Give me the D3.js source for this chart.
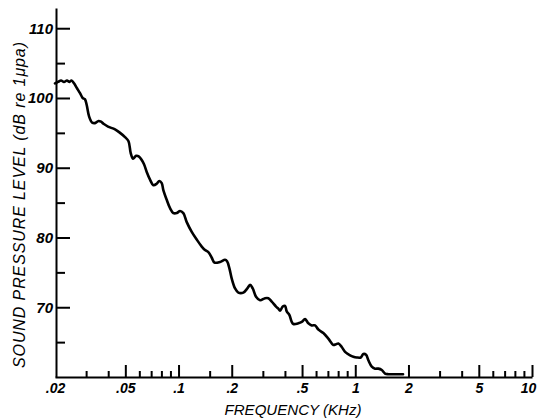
<!DOCTYPE html>
<html>
<head>
<meta charset="utf-8">
<script src="https://cdn.jsdelivr.net/npm/d3@7"></script>
<style>
  html, body { margin: 0; padding: 0; background: #fff; }
  svg text { font-family: "Liberation Sans Narrow", "Liberation Sans", Arial, sans-serif; font-style: italic; fill: #000; }
</style>
</head>
<body>
<svg id="chart" width="538" height="419"></svg>
<script>
// Ambient noise spectrum: frequency (kHz) vs sound pressure level (dB re 1 µPa)
const freqKHz = [
  0.02, 0.0208, 0.02163, 0.02249, 0.02338, 0.02416, 0.0248, 0.02562, 0.02664, 0.0277,
  0.02869, 0.02957, 0.03023, 0.03115, 0.03239, 0.03368, 0.03525, 0.03642, 0.03763, 0.0399,
  0.04371, 0.04667, 0.04979, 0.05212, 0.05363, 0.05527, 0.05747, 0.05976, 0.0619, 0.06379,
  0.06607, 0.06897, 0.07201, 0.07527, 0.07786, 0.08034, 0.08203, 0.08575, 0.08952, 0.09346,
  0.09769, 0.10198, 0.10646, 0.11129, 0.11877, 0.12676, 0.13529, 0.14125, 0.14745, 0.15414,
  0.15987, 0.17177, 0.18332, 0.18816, 0.19388, 0.2, 0.20879, 0.21796, 0.23264, 0.24508,
  0.25384, 0.26292, 0.27448, 0.28918, 0.30868, 0.32224, 0.33684, 0.35626, 0.36708, 0.3753,
  0.38872, 0.40056, 0.40952, 0.42364, 0.4371, 0.44632, 0.47638, 0.49796, 0.51984, 0.5427,
  0.56728, 0.59222, 0.6183, 0.6598, 0.7042, 0.7516, 0.7786, 0.8022, 0.8386, 0.8756,
  0.9346, 0.9754, 1.0198, 1.0742, 1.1112, 1.1508, 1.1862, 1.2398, 1.2944, 1.3514,
  1.4126, 1.4746, 1.5394, 1.68, 1.864
];
const splDb = [
  102.1, 102.3, 102.5, 102.3, 102.5, 102.3, 102.5, 102.1, 101.4, 100.7,
  100.0, 99.8, 99.0, 97.4, 96.5, 96.4, 96.7, 96.6, 96.3, 95.9,
  95.5, 95.0, 94.4, 93.8, 92.1, 91.3, 91.7, 91.6, 91.1, 90.5,
  89.4, 88.3, 87.5, 87.7, 88.1, 87.8, 86.8, 85.4, 84.2, 83.5,
  83.5, 83.8, 83.5, 82.2, 80.8, 79.7, 78.7, 78.2, 77.9, 77.1,
  76.4, 76.5, 76.8, 76.6, 75.6, 74.1, 72.7, 72.1, 72.1, 72.7,
  73.2, 72.7, 71.5, 71.0, 71.3, 71.3, 70.8, 70.1, 69.8, 69.5,
  70.1, 70.2, 69.4, 68.9, 67.9, 67.6, 67.7, 67.9, 68.3, 67.7,
  67.4, 67.4, 66.8, 66.3, 65.5, 64.6, 64.7, 64.8, 64.3, 63.6,
  63.1, 62.9, 62.8, 62.8, 63.3, 63.2, 62.4, 61.5, 61.2, 61.2,
  61.0, 60.5, 60.4, 60.4, 60.4
];

// Axis ticks and labels
const xMajorTicks = [0.02, 0.05, 0.1, 0.2, 0.5, 1, 2, 5, 10];
const xMajorLabels = [".02", ".05", ".1", ".2", ".5", "1", "2", "5", "10"];
const xMinorTicks = [0.03, 0.04, 0.06, 0.07, 0.08, 0.09, 0.15, 0.3, 0.4, 0.6, 0.7, 0.8, 0.9, 3, 4, 6, 7, 8, 9];
const yMajorTicks = [70, 80, 90, 100, 110];
const yMinorTicks = [65, 75, 85, 95, 105];
const xDomain = [0.02, 10];
const yDomain = [60, 112.9];
const xTitle = "FREQUENCY (KHz)";
const yTitle = "SOUND PRESSURE LEVEL (dB re 1\u03bcpa)";

const svg = d3.select("#chart");

const x = d3.scaleLog().domain(xDomain).range([55, 532]);
const y = d3.scaleLinear().domain(yDomain).range([377, 8]);

const axisStroke = g => {
  g.selectAll("path.domain").attr("stroke", "#000").attr("stroke-width", 2);
  g.selectAll(".tick line").attr("stroke", "#000").attr("stroke-width", 2);
};

// Bottom axis: major ticks pointing up, labelled
const xAxisMajor = d3.axisBottom(x)
  .tickValues(xMajorTicks)
  .tickSizeInner(-12)
  .tickSizeOuter(0)
  .tickPadding(6)
  .tickFormat((d, i) => xMajorLabels[i]);

const gx = svg.append("g")
  .attr("transform", `translate(0,${y(60)})`)
  .call(xAxisMajor)
  .call(axisStroke);
gx.selectAll("text").attr("font-size", 14).attr("font-weight", "bold").attr("dy", "0.71em");
gx.selectAll(".tick").filter(d => d === 0.02).select("line").remove();
gx.selectAll(".tick").filter(d => d === 10).select("text").attr("dx", -4);

// Bottom axis: minor ticks
svg.append("g")
  .attr("transform", `translate(0,${y(60)})`)
  .call(d3.axisBottom(x).tickValues(xMinorTicks).tickSizeInner(-6).tickSizeOuter(0).tickFormat(""))
  .call(g => g.select("path.domain").remove())
  .call(axisStroke);

// Left axis: major ticks pointing right, labelled
const yAxisMajor = d3.axisLeft(y)
  .tickValues(yMajorTicks)
  .tickSizeInner(-14)
  .tickSizeOuter(0)
  .tickPadding(3)
  .tickFormat(d3.format("d"));

const gy = svg.append("g")
  .attr("transform", `translate(${x(0.02) + 1},0)`)
  .call(yAxisMajor)
  .call(axisStroke);
gy.selectAll("text").attr("font-size", 15).attr("font-weight", "bold");

// Left axis: minor ticks
svg.append("g")
  .attr("transform", `translate(${x(0.02) + 1},0)`)
  .call(d3.axisLeft(y).tickValues(yMinorTicks).tickSizeInner(-9).tickSizeOuter(0).tickFormat(""))
  .call(g => g.select("path.domain").remove())
  .call(axisStroke);

svg.selectAll(".tick text").attr("font-family", null);
svg.selectAll("g").attr("font-family", null);

// Spectrum curve
const points = freqKHz.map((f, i) => [f, splDb[i]]);
const line = d3.line()
  .x(d => x(d[0]))
  .y(d => y(d[1]))
  .curve(d3.curveCatmullRom.alpha(0.5));

svg.append("path")
  .datum(points)
  .attr("d", line)
  .attr("fill", "none")
  .attr("stroke", "#000")
  .attr("stroke-width", 2.6)
  .attr("stroke-linejoin", "round")
  .attr("stroke-linecap", "round");

// Axis titles
svg.append("text")
  .attr("x", 293)
  .attr("y", 415)
  .attr("text-anchor", "middle")
  .attr("font-size", 14)
  .attr("textLength", 137)
  .attr("lengthAdjust", "spacingAndGlyphs")
  .text(xTitle);

svg.append("text")
  .attr("transform", "translate(25,205) rotate(-90)")
  .attr("text-anchor", "middle")
  .attr("font-size", 16)
  .attr("textLength", 326)
  .attr("lengthAdjust", "spacing")
  .text(yTitle);
</script>
</body>
</html>
